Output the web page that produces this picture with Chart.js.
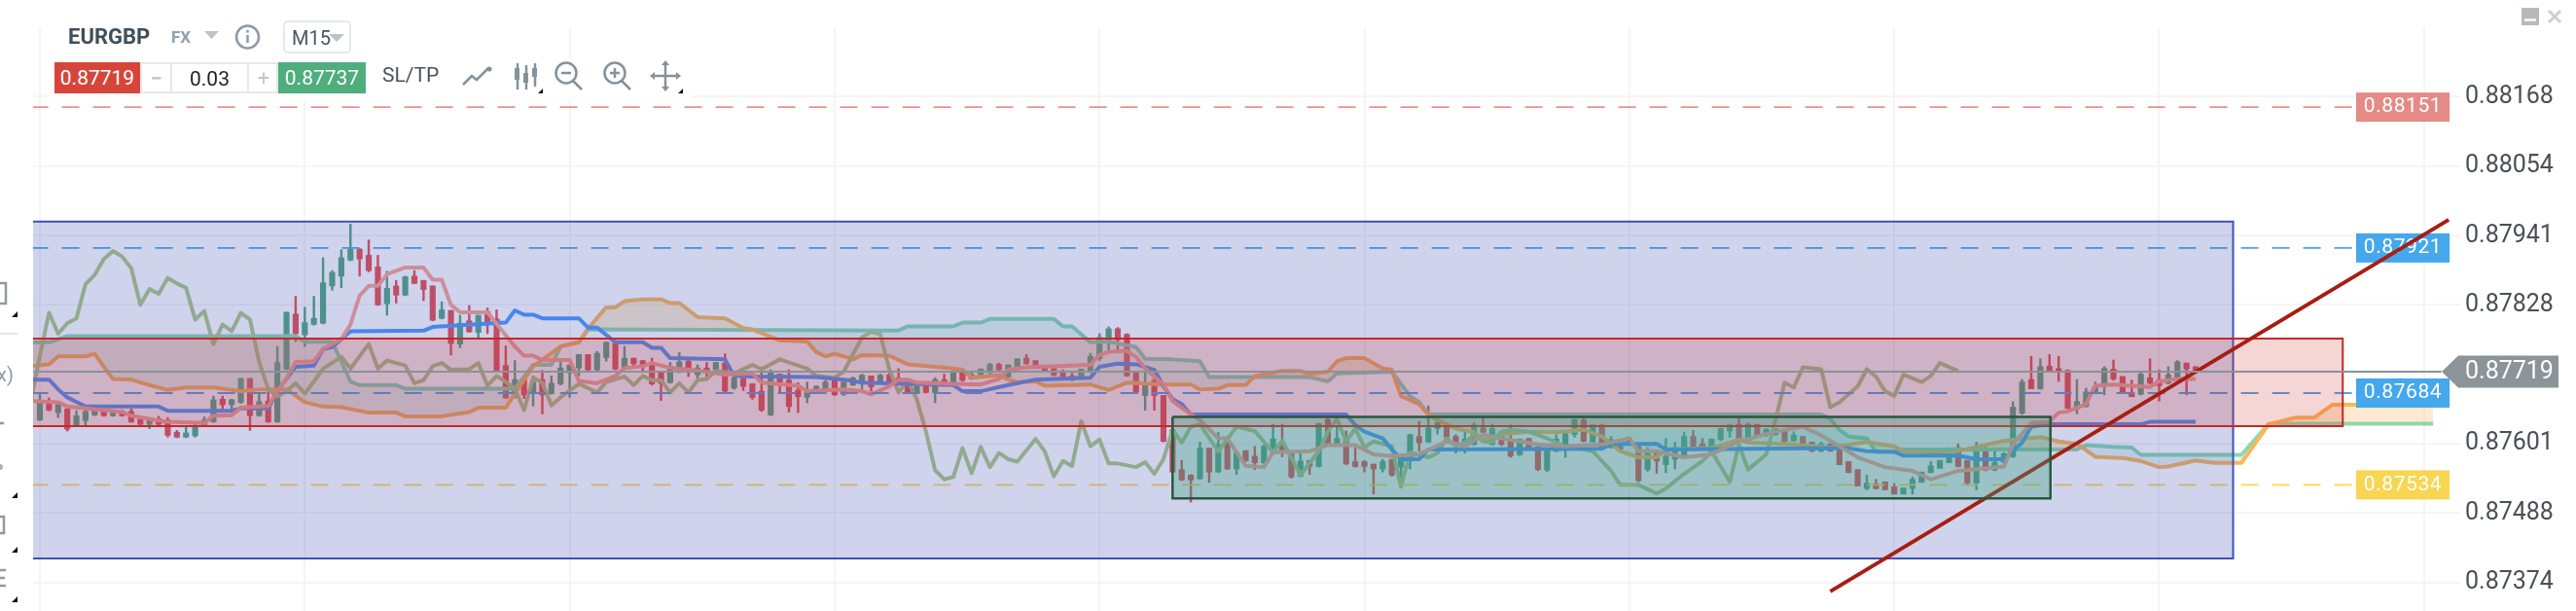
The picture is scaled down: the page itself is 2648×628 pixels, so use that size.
<!DOCTYPE html>
<html>
<head>
<meta charset="utf-8">
<title>EURGBP M15</title>
<script src="https://cdn.jsdelivr.net/npm/chart.js@4/dist/chart.umd.min.js"></script>
<style>
html, body { margin: 0; padding: 0; background: #fff; overflow: hidden; }
#wrap { position: relative; width: 2648px; height: 628px; font-family: Roboto, sans-serif; filter: blur(0.5px); }
canvas { position: absolute; left: 0; top: 0; }
.abs { position: absolute; white-space: nowrap; }
.box { position: absolute; display: flex; align-items: center; justify-content: center; box-sizing: border-box; }
svg { position: absolute; left: 0; top: 0; }
</style>
</head>
<body>
<div id="wrap">
  <canvas id="myChart" width="2648" height="628"></canvas>
  <!-- toolbar panels hide the grid behind them -->
  <div class="abs" style="left:51px;top:20px;width:315px;height:82px;background:#fff"></div>
  <div class="abs" style="left:51px;top:60px;width:660px;height:42px;background:#fff"></div>

  <div class="abs" style="left:70px;top:24px;font:bold 22px Roboto;color:#3f4e5a;line-height:28px">EURGBP</div>
  <div class="abs" style="left:176px;top:26px;font:bold 17px Roboto;color:#8fa2ad;line-height:24px">FX</div>
  <div class="box" style="left:291px;top:21px;width:70px;height:34px;border:2px solid #e6e8ea;border-radius:5px"></div>
  <div class="abs" style="left:300px;top:26px;font:20px Roboto;color:#4a5560;line-height:26px">M15</div>

  <div class="box" style="left:56px;top:64px;width:88px;height:32px;background:#d6453a;color:#fff;font:21px Roboto">0.87719</div>
  <div class="box" style="left:144px;top:64px;width:142px;height:32px;border:2px solid #e8e8e8"></div>
  <div class="abs" style="left:175px;top:64px;width:2px;height:32px;background:#e8e8e8"></div>
  <div class="abs" style="left:254px;top:64px;width:2px;height:32px;background:#e8e8e8"></div>
  <div class="box" style="left:177px;top:64px;width:77px;height:33px;color:#222;font:21px Roboto">0.03</div>
  <div class="box" style="left:146px;top:64px;width:29px;height:32px;color:#c4c7ca;font:bold 22px Roboto">−</div>
  <div class="box" style="left:256px;top:64px;width:30px;height:32px;color:#c4c7ca;font:22px Roboto">+</div>
  <div class="box" style="left:286px;top:64px;width:90px;height:32px;background:#4fae7c;color:#fff;font:21px Roboto">0.87737</div>
  <div class="abs" style="left:393px;top:64px;font:21px Roboto;color:#455560;line-height:26px">SL/TP</div>

  <svg width="2648" height="628" style="pointer-events:none">
    <g fill="#bcc2c6">
      <path d="M210 32h15l-7.500 8z"/>
      <path d="M338 35h16l-8 8z"/>
    </g>
    <g fill="none" stroke="#8d9aa3" stroke-width="2.500">
      <circle cx="254.500" cy="38" r="11.500"/>
      <path d="M254.500 36v8M254.500 31v2.500"/>
    </g>
    <g fill="none" stroke="#84929a" stroke-width="2.500">
      <path d="M476 87l9-9 5 4 12-12"/>
      <path d="M532 65v27M532 72v12M541 67v25M550 65v24"/>
      <circle cx="582" cy="75" r="10.500"/>
      <path d="M589 83l9 9M577 75h10"/>
      <circle cx="632" cy="75" r="10.500"/>
      <path d="M639 83l9 9M627 75h10M632 70v10"/>
      <path d="M671 78h26M684 65v26"/>
    </g>
    <g fill="#84929a" stroke="none">
      <rect x="529" y="70" width="5" height="12"/>
      <rect x="538" y="75" width="5" height="10"/>
      <rect x="547" y="70" width="5" height="9"/>
      <circle cx="503" cy="71" r="2.500"/>
      <path d="M684 62l-4 5h8zM684 94l-4-5h8zM668 78l5-4v8zM700 78l-5-4v8z"/>
    </g>
    <g fill="#111">
      <path d="M553 96h5v-5zM697 96h5v-5z"/>
      <path d="M12 326h6v-6zM12 512h6v-6zM12 568h6v-6zM12 619h6v-6z"/>
    </g>
    <g fill="none" stroke="#8f9aa0" stroke-width="2.500">
      <path d="M-2 291h8v21h-8"/>
      <path d="M-2 531h6v17h-6"/>
      <path d="M0 586h6M0 594h5M0 602h6"/>
      <path d="M0 435h4"/>
    </g>
    <rect x="0" y="342" width="18" height="2" fill="#e5e5e5"/>
    <circle cx="0" cy="480" r="3" fill="#a9b1b6"/>
    <text x="-3" y="392" font-family="Roboto" font-size="20" fill="#8f9aa0">x)</text>
    <rect x="2592" y="8" width="18" height="18" fill="#b5b9bd"/>
    <rect x="2595" y="19" width="12" height="3" fill="#eef0f1"/>
    <path d="M2620 11l12 12M2632 11l-12 12" stroke="#ccd0d3" stroke-width="3" fill="none"/>
  </svg>
</div>
<script>
// all prices are in points, 87719 = 0.87719
// 15 min candles
var opens = [
  87640,87668,87652,87658,87631,87639,87648,87655,87647,87655,
  87654,87641,87633,87642,87640,87620,87612,87614,87631,87637,
  87674,87665,87669,87708,87647,87671,87637,87723,87813,87779,
  87796,87798,87859,87875,87901,87919,87909,87890,87830,87859,
  87844,87875,87868,87859,87806,87819,87764,87802,87783,87817,
  87805,87729,87677,87706,87683,87706,87683,87699,87717,87725,
  87747,87722,87742,87765,87725,87741,87737,87733,87717,87701,
  87718,87736,87714,87725,87722,87733,87692,87708,87699,87687,
  87648,87715,87705,87689,87677,87687,87690,87705,87682,87697,
  87703,87712,87701,87714,87709,87702,87685,87698,87685,87706,
  87701,87719,87707,87714,87717,87731,87710,87726,87741,87737,
  87727,87724,87717,87712,87710,87718,87740,87771,87789,87780,
  87717,87680,87705,87680,87624,87559,87550,87544,87594,87555,
  87603,87560,87590,87581,87570,87587,87600,87586,87548,87574,
  87564,87641,87600,87608,87572,87572,87568,87560,87575,87563,
  87573,87613,87604,87626,87632,87613,87599,87600,87627,87600,
  87621,87606,87583,87610,87596,87558,87589,87595,87616,87640,
  87604,87632,87595,87601,87610,87597,87559,87589,87567,87576,
  87581,87613,87601,87589,87608,87622,87633,87606,87633,87615,
  87616,87625,87606,87613,87604,87589,87601,87592,87572,87559,
  87528,87536,87539,87531,87519,87528,87538,87554,87561,87570,
  87595,87574,87537,87590,87558,87571,87580,87651,87706,87691,
  87728,87724,87721,87658,87662,87685,87698,87723,87711,87685,
  87682,87709,87705,87700,87710,87733,87727
];
var closes = [
  87671,87656,87665,87625,87647,87654,87656,87647,87654,87647,
  87637,87633,87640,87633,87615,87612,87619,87629,87640,87673,
  87665,87673,87708,87647,87670,87637,87734,87816,87781,87799,
  87806,87864,87881,87905,87919,87903,87884,87828,87855,87844,
  87874,87863,87853,87803,87820,87765,87798,87784,87811,87796,
  87720,87676,87706,87681,87702,87681,87700,87725,87730,87747,
  87722,87749,87767,87723,87741,87732,87727,87699,87700,87728,
  87735,87718,87725,87717,87734,87687,87709,87695,87677,87656,
  87719,87701,87662,87678,87685,87695,87702,87681,87702,87709,
  87713,87694,87713,87700,87703,87685,87695,87685,87706,87698,
  87720,87705,87714,87723,87731,87722,87730,87740,87732,87726,
  87719,87713,87710,87705,87723,87744,87775,87789,87771,87712,
  87685,87698,87680,87605,87555,87542,87542,87594,87555,87600,
  87560,87587,87573,87570,87597,87609,87587,87547,87573,87564,
  87634,87600,87610,87568,87564,87564,87560,87572,87550,87579,
  87616,87603,87627,87635,87612,87601,87609,87632,87620,87626,
  87600,87581,87609,87595,87559,87594,87609,87618,87641,87605,
  87632,87595,87608,87592,87600,87541,87589,87573,87581,87595,
  87613,87597,87596,87609,87626,87632,87605,87633,87613,87625,
  87626,87605,87615,87601,87589,87601,87589,87567,87554,87532,
  87537,87528,87526,87519,87529,87543,87555,87565,87574,87594,
  87564,87537,87589,87558,87571,87585,87661,87702,87691,87727,
  87719,87718,87659,87670,87686,87694,87724,87707,87685,87678,
  87715,87700,87696,87714,87735,87723,87719
];
var highs = [
  87682,87676,87669,87661,87655,87658,87660,87658,87655,87656,
  87658,87644,87642,87646,87644,87623,87631,87633,87645,87679,
  87679,87674,87708,87708,87682,87695,87760,87816,87842,87824,
  87842,87905,87884,87918,87960,87920,87934,87909,87883,87868,
  87875,87884,87868,87859,87833,87819,87811,87827,87811,87823,
  87820,87761,87737,87706,87712,87721,87712,87734,87730,87747,
  87747,87752,87767,87765,87760,87741,87737,87741,87717,87734,
  87750,87741,87730,87734,87734,87748,87720,87708,87699,87722,
  87722,87715,87722,87701,87702,87696,87705,87705,87703,87710,
  87715,87712,87715,87724,87724,87706,87703,87703,87709,87715,
  87722,87719,87719,87724,87733,87733,87730,87740,87747,87737,
  87730,87726,87722,87718,87723,87749,87781,87792,87791,87781,
  87717,87717,87712,87680,87624,87574,87551,87604,87594,87620,
  87603,87588,87590,87597,87599,87633,87633,87587,87586,87574,
  87635,87642,87629,87622,87595,87574,87568,87576,87576,87579,
  87617,87638,87663,87637,87632,87616,87624,87635,87643,87633,
  87621,87632,87609,87610,87596,87594,87616,87618,87641,87643,
  87632,87633,87613,87601,87610,87597,87595,87589,87610,87604,
  87620,87623,87610,87609,87627,87633,87643,87635,87633,87626,
  87626,87626,87621,87613,87604,87604,87601,87592,87572,87559,
  87550,87543,87539,87536,87529,87547,87555,87572,87574,87595,
  87601,87574,87604,87597,87589,87587,87670,87706,87744,87740,
  87747,87744,87722,87706,87692,87702,87727,87738,87711,87705,
  87717,87740,87722,87727,87737,87733,87727
];
var lows = [
  87639,87655,87644,87622,87630,87631,87647,87646,87646,87646,
  87636,87631,87626,87632,87612,87611,87611,87612,87630,87636,
  87658,87655,87667,87623,87646,87636,87636,87722,87768,87760,
  87795,87797,87852,87856,87900,87875,87882,87827,87811,87831,
  87843,87863,87835,87802,87805,87746,87758,87783,87775,87781,
  87719,87675,87676,87675,87663,87650,87682,87697,87677,87712,
  87721,87721,87736,87722,87723,87728,87720,87697,87672,87700,
  87717,87711,87707,87709,87721,87685,87690,87688,87674,87654,
  87647,87684,87653,87652,87668,87685,87689,87680,87680,87696,
  87691,87687,87699,87699,87702,87684,87684,87684,87668,87698,
  87700,87703,87706,87712,87715,87721,87709,87724,87731,87724,
  87719,87712,87709,87704,87710,87717,87737,87754,87754,87711,
  87684,87656,87656,87604,87554,87541,87506,87543,87538,87554,
  87559,87551,87572,87559,87568,87586,87580,87545,87547,87551,
  87563,87599,87597,87567,87563,87555,87519,87555,87548,87531,
  87560,87589,87603,87617,87610,87586,87586,87599,87619,87599,
  87598,87579,87582,87594,87557,87556,87588,87579,87612,87604,
  87604,87594,87594,87591,87600,87539,87556,87553,87554,87560,
  87580,87596,87595,87588,87606,87612,87604,87605,87612,87613,
  87615,87604,87605,87601,87588,87588,87589,87567,87554,87532,
  87526,87527,87526,87519,87519,87519,87538,87554,87561,87570,
  87563,87535,87526,87557,87557,87570,87579,87649,87691,87690,
  87718,87703,87658,87650,87661,87684,87681,87705,87685,87678,
  87681,87699,87671,87699,87709,87681,87717
];

// indicator lines, [bar, price]
var chikou = [[-1,87670],[0,87745],[1,87815],[2,87781],[3,87798],[4,87806],[5,87862],[6,87877],[7,87903],[8,87916],[9,87907],[10,87888],[11,87828],[12,87854],[13,87846],[14,87872],[15,87863],[16,87856],[17,87804],[18,87818],[19,87764],[20,87796],[21,87785],[22,87815],[23,87804],[24,87735],[25,87690],[26,87678],[27,87687],[28,87700],[29,87683],[30,87703],[31,87724],[33,87743],[34,87724],[36,87764],[37,87724],[38,87737],[40,87729],[41,87700],[42,87705],[43,87728],[44,87733],[45,87722],[47,87723],[48,87733],[49,87696],[50,87712],[52,87692],[53,87656],[54,87709],[55,87701],[56,87664],[57,87677],[59,87699],[61,87685],[62,87702],[64,87711],[65,87697],[66,87712],[67,87705],[68,87705],[69,87685],[70,87700],[71,87685],[72,87705],[73,87707],[74,87720],[76,87716],[78,87730],[79,87723],[81,87739],[84,87724],[85,87712],[87,87709],[88,87719],[90,87775],[91,87784],[92,87780],[93,87722],[94,87685],[95,87705],[96,87674],[97,87621],[98,87558],[99,87543],[100,87547],[101,87594],[102,87553],[103,87596],[104,87563],[105,87586],[106,87576],[107,87572],[109,87609],[110,87589],[111,87548],[112,87573],[113,87565],[114,87638],[115,87597],[116,87608],[117,87569],[118,87569],[120,87563],[121,87571],[122,87552],[123,87576],[124,87624],[125,87603],[126,87629],[127,87633],[129,87589],[131,87629],[133,87622],[135,87587],[136,87606],[138,87550],[140,87589],[141,87621],[142,87642],[143,87605],[144,87626],[145,87595],[146,87605],[148,87597],[149,87531],[150,87587],[152,87579],[153,87586],[154,87610],[155,87597],[156,87603],[157,87616],[158,87605],[159,87604],[160,87621],[161,87624],[163,87621],[165,87610],[167,87596],[169,87592],[170,87589],[172,87557],[173,87534],[175,87534],[177,87520],[178,87528],[180,87552],[182,87573],[183,87589],[185,87539],[186,87600],[187,87559],[189,87584],[190,87640],[191,87701],[192,87693],[193,87726],[195,87723],[196,87661],[197,87669],[199,87695],[200,87723],[201,87711],[202,87687],[203,87679],[204,87714],[206,87702],[207,87712],[208,87733],[210,87720]];
var tenkan = [[-1,87671],[2,87669],[3,87662],[5,87659],[9,87653],[10,87647],[13,87639],[14,87637],[18,87635],[19,87647],[21,87648],[22,87660],[25,87663],[26,87687],[27,87708],[28,87735],[30,87736],[31,87756],[33,87772],[34,87796],[35,87843],[36,87859],[37,87859],[38,87878],[40,87889],[42,87889],[43,87869],[44,87869],[45,87828],[46,87816],[49,87816],[50,87797],[52,87760],[53,87745],[54,87745],[55,87738],[58,87738],[59,87704],[61,87700],[63,87712],[64,87725],[66,87728],[67,87733],[69,87725],[72,87721],[75,87714],[78,87716],[79,87701],[83,87696],[84,87687],[88,87690],[90,87687],[91,87682],[93,87695],[94,87706],[95,87706],[96,87701],[100,87699],[103,87698],[105,87707],[106,87722],[108,87726],[115,87730],[116,87746],[117,87751],[119,87753],[120,87743],[121,87724],[123,87698],[124,87671],[126,87649],[127,87640],[129,87610],[130,87610],[132,87565],[134,87563],[135,87587],[139,87589],[141,87599],[144,87599],[146,87584],[148,87581],[151,87584],[154,87605],[156,87597],[158,87616],[160,87610],[164,87600],[167,87597],[171,87600],[174,87610],[175,87589],[177,87589],[180,87579],[183,87584],[186,87605],[190,87621],[193,87629],[195,87615],[199,87579],[202,87563],[205,87557],[207,87543],[210,87557],[215,87564],[216,87600],[218,87635],[220,87637],[221,87652],[222,87654],[224,87666],[225,87696],[227,87698],[229,87696],[231,87694],[232,87703],[234,87707],[236,87707]];
var kijun = [[-1,87706],[1,87706],[2,87690],[3,87677],[5,87662],[13,87662],[14,87655],[21,87655],[22,87659],[25,87659],[26,87687],[28,87727],[30,87729],[31,87756],[32,87759],[34,87785],[42,87786],[43,87792],[51,87799],[52,87819],[53,87812],[54,87812],[55,87806],[59,87806],[60,87791],[61,87791],[63,87767],[66,87767],[67,87758],[68,87758],[69,87741],[75,87739],[76,87712],[78,87711],[85,87710],[88,87706],[90,87701],[100,87697],[101,87687],[103,87687],[106,87697],[109,87706],[115,87709],[116,87727],[118,87732],[120,87731],[122,87722],[123,87695],[124,87674],[125,87666],[126,87649],[143,87649],[144,87632],[145,87621],[147,87610],[148,87592],[149,87576],[151,87576],[152,87592],[171,87593],[172,87601],[177,87601],[178,87592],[198,87594],[200,87589],[203,87588],[204,87582],[210,87582],[212,87576],[215,87576],[217,87603],[218,87629],[220,87633],[230,87633],[231,87637],[236,87637]];
var senkouA = [[-1,87728],[1,87731],[2,87744],[5,87744],[6,87748],[7,87727],[8,87707],[10,87706],[12,87697],[14,87689],[16,87693],[19,87693],[22,87687],[24,87690],[27,87690],[29,87669],[31,87662],[33,87661],[36,87652],[39,87652],[40,87646],[44,87646],[47,87653],[48,87660],[51,87660],[52,87683],[54,87728],[57,87760],[59,87767],[60,87789],[62,87824],[63,87824],[64,87834],[66,87837],[68,87837],[69,87831],[70,87831],[72,87808],[75,87806],[77,87790],[78,87788],[81,87770],[84,87768],[85,87751],[86,87744],[87,87748],[88,87744],[89,87739],[90,87746],[93,87745],[95,87731],[98,87727],[100,87724],[101,87722],[102,87709],[105,87713],[106,87706],[107,87702],[109,87703],[110,87696],[115,87698],[117,87689],[119,87701],[123,87698],[126,87698],[127,87690],[129,87691],[130,87697],[132,87697],[133,87712],[136,87720],[138,87720],[139,87715],[141,87719],[142,87736],[143,87741],[145,87741],[147,87724],[148,87722],[149,87679],[151,87666],[152,87649],[153,87640],[155,87626],[157,87620],[158,87608],[160,87616],[163,87621],[166,87620],[169,87624],[171,87613],[173,87589],[175,87579],[177,87579],[178,87592],[183,87594],[186,87608],[187,87603],[192,87600],[196,87595],[200,87604],[203,87597],[204,87589],[209,87586],[212,87596],[215,87606],[219,87612],[221,87605],[223,87601],[225,87580],[228,87578],[230,87573],[232,87563],[233,87564],[236,87574],[238,87570],[241,87570],[244,87633],[247,87644],[249,87644],[251,87665],[262,87665]];
var senkouB = [[-1,87767],[1,87767],[3,87777],[28,87777],[29,87768],[32,87768],[34,87703],[35,87697],[39,87697],[40,87691],[52,87691],[54,87730],[56,87730],[57,87760],[59,87767],[60,87788],[94,87786],[95,87793],[100,87793],[101,87799],[103,87799],[104,87805],[111,87805],[112,87793],[113,87793],[115,87767],[117,87768],[120,87759],[121,87740],[124,87739],[127,87736],[128,87710],[139,87710],[141,87703],[142,87716],[148,87719],[150,87679],[151,87669],[152,87649],[195,87649],[196,87642],[197,87624],[198,87613],[200,87610],[201,87588],[203,87588],[204,87592],[223,87592],[224,87599],[227,87596],[229,87595],[230,87583],[241,87583],[244,87634],[262,87634]];

var trendLine = [[196,87360],[263.700,87967]];

// boxes: first bar, last bar, top price, bottom price
var blueZone = [-2, 240.100, 87964, 87414];
var redZone = [-2, 252.100, 87773, 87630];
var greenZone = [124, 220.100, 87645, 87512];

var gridBars = [0,29,58,87,116,145,174,203,232,261];
var axisTicks = [88168,88054,87941,87828,87601,87488,87374];
var currentPrice = 87719;
var stopLevels = [88151,87921,87684,87534];
var stopColors = ['#e58a85','#45a7ec','#45a7ec','#f8d552'];
var levelColors = ['#ee9088','#4aa6ee','#4aa6ee','#ffd54f'];

var barIdx = opens.map(function(o, i) { return i; });
var upColor = '#55a67f';
var downColor = '#e94f4f';
var candleColors = opens.map(function(o, i) { return closes[i] >= o ? upColor : downColor; });

function toPoints(list) {
  return list.map(function(p) { return {x: p[0], y: p[1]}; });
}
function boxPoints(z) {
  return [{x:z[0],y:z[2]},{x:z[1],y:z[2]},{x:z[1],y:z[3]},{x:z[0],y:z[3]},{x:z[0],y:z[2]}];
}
function lineSet(label, list, color, order, width) {
  return {type:'line', label:label, data:toPoints(list), borderColor:color, borderWidth:width || 4,
    pointRadius:0, fill:false, tension:0, order:order, borderJoinStyle:'round'};
}
function boxSet(label, z, fillColor, lineColor, width, order) {
  return {type:'line', label:label, data:boxPoints(z), borderColor:lineColor, backgroundColor:fillColor,
    borderWidth:width, pointRadius:0, fill:'shape', tension:0, order:order, borderJoinStyle:'miter'};
}

var datasets = [];
stopLevels.forEach(function(level, i) {
  var s = lineSet('level ' + level, [[-1, level], [253.500, level]], levelColors[i], 6, 1.8);
  s.borderDash = [18, 14];
  datasets.push(s);
});
datasets.push(lineSet('Tenkan', tenkan, '#fba592', 7));
datasets.push(lineSet('Kijun', kijun, '#4b99fd', 7));
datasets.push(lineSet('Chikou', chikou, '#aec983', 7));
var aSet = lineSet('Senkou A', senkouA, '#fbb658', 7);
var bSet = lineSet('Senkou B', senkouB, '#88dab5', 7);
aSet.fill = {target: datasets.length + 1, above: 'rgba(245,174,69,0.25)', below: 'rgba(128,212,174,0.2)'};
datasets.push(aSet);
datasets.push(bSet);
datasets.push({type:'bar', label:'Bodies', data: barIdx.map(function(i) { return {x:i, y:[opens[i], closes[i]]}; }),
  backgroundColor:candleColors, barThickness:5.500, grouped:false, borderSkipped:false, order:8});
datasets.push({type:'bar', label:'Wicks', data: barIdx.map(function(i) { return {x:i, y:[lows[i], highs[i]]}; }),
  backgroundColor:candleColors, barThickness:1.800, grouped:false, borderSkipped:false, order:9});
datasets.push(boxSet('Blue zone', blueZone, 'rgba(63,81,181,0.25)', '#3f51b5', 2, 5));
datasets.push(boxSet('Red zone', redZone, 'rgba(211,47,47,0.2)', '#c62828', 2, 4));
datasets.push(lineSet('Trend', trendLine, '#a81d12', 3, 4));
datasets.push(boxSet('Green zone', greenZone, 'rgba(55,160,125,0.33)', '#27583f', 2.500, 2));
datasets.push(lineSet('Current', [[-1, currentPrice], [262.900, currentPrice]], '#8a9297', 1, 2));

function fmt(v) { return (v / 100000).toFixed(5); }

var tagPlugin = {
  id: 'priceTags',
  afterDatasetDraw: function(chart, args) {
    if (chart.data.datasets[args.index].label !== 'Red zone') return;
    var ctx = chart.ctx, y = chart.scales.y;
    ctx.save();
    ctx.font = '21px Roboto';
    ctx.letterSpacing = '0.600px';
    ctx.textBaseline = 'middle';
    ctx.textAlign = 'center';
    stopLevels.forEach(function(level, i) {
      var py = y.getPixelForValue(level);
      ctx.fillStyle = stopColors[i];
      ctx.fillRect(2422, py - 15, 96, 30);
      ctx.fillStyle = '#fff';
      ctx.fillText(fmt(level), 2470, py);
    });
    ctx.restore();
  },
  afterDraw: function(chart) {
    var ctx = chart.ctx, py = chart.scales.y.getPixelForValue(currentPrice);
    ctx.save();
    ctx.fillStyle = '#8c9499';
    ctx.beginPath();
    ctx.moveTo(2510, py);
    ctx.lineTo(2527, py - 16.500);
    ctx.lineTo(2630, py - 16.500);
    ctx.lineTo(2630, py + 16.500);
    ctx.lineTo(2527, py + 16.500);
    ctx.closePath();
    ctx.fill();
    ctx.fillStyle = '#fff';
    ctx.font = '25px Roboto';
    ctx.textBaseline = 'middle';
    ctx.fillText(fmt(currentPrice), 2534, py + 1);
    ctx.restore();
  }
};

var ctx = document.getElementById('myChart').getContext('2d');
var myChart = new Chart(ctx, {
  type: 'bar',
  data: { datasets: datasets },
  plugins: [tagPlugin],
  options: {
    responsive: false,
    animation: false,
    events: [],
    layout: { padding: { left: 34, top: 28, right: 0, bottom: 0 } },
    plugins: { legend: { display: false }, tooltip: { enabled: false } },
    scales: {
      x: {
        type: 'linear',
        offset: false,
        min: -0.745,
        max: 265.070,
        grid: { offset: false, color: '#f4f5f8', lineWidth: 2, drawTicks: false },
        border: { display: false },
        ticks: { display: false },
        afterBuildTicks: function(s) { s.ticks = gridBars.map(function(v) { return {value: v}; }); },
        afterFit: function(s) { s.height = 0; s.paddingLeft = 0; s.paddingRight = 0; }
      },
      y: {
        type: 'linear',
        position: 'right',
        beginAtZero: false,
        min: 87328,
        max: 88281.500,
        grid: { color: '#f4f5f8', lineWidth: 2, drawTicks: false },
        border: { display: false },
        ticks: {
          padding: 4,
          color: '#4a4f55',
          font: { family: 'Roboto', size: 25 },
          autoSkip: false,
          callback: function(v) { return fmt(v); }
        },
        afterBuildTicks: function(s) { s.ticks = axisTicks.map(function(v) { return {value: v}; }); },
        afterFit: function(s) { s.width = 118; s.paddingTop = 0; s.paddingBottom = 0; }
      }
    }
  }
});
</script>
</body>
</html>
